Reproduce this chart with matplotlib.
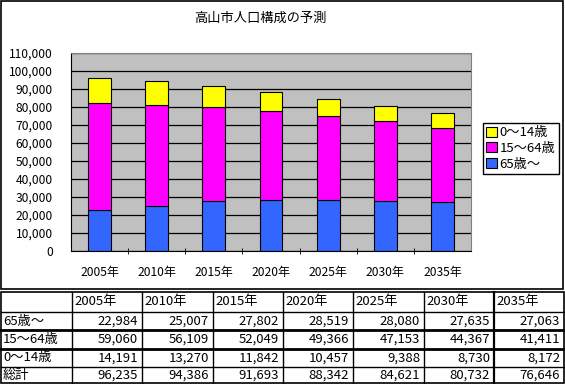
import matplotlib
matplotlib.use('Agg')
import matplotlib.pyplot as plt
from matplotlib.patches import Rectangle
from matplotlib.ticker import FuncFormatter, MultipleLocator

plt.rcParams['font.family'] = ['Noto Sans CJK JP', 'DejaVu Sans']

years = ['2005年', '2010年', '2015年', '2020年', '2025年', '2030年', '2035年']
age65 = [22984, 25007, 27802, 28519, 28080, 27635, 27063]
age15 = [59060, 56109, 52049, 49366, 47153, 44367, 41411]
age0 = [14191, 13270, 11842, 10457, 9388, 8730, 8172]
total = [96235, 94386, 91693, 88342, 84621, 80732, 76646]
row_labels = ['65歳〜', '15〜64歳', '0〜14歳', '総計']
title = '高山市人口構成の予測'

W, H = 565, 384
fig = plt.figure(figsize=(W / 100, H / 100), dpi=100)

# overlay in pixel coords for frames and the data table
ov = fig.add_axes([0, 0, 1, 1])
ov.set_xlim(0, W)
ov.set_ylim(H, 0)
ov.axis('off')
ov.add_patch(Rectangle((1, 1), 562, 288, fill=False, ec='black', lw=1.2))

ax = fig.add_axes([71 / W, 1 - 251 / H, 400 / W, 198 / H])
ax.set_facecolor('#C0C0C0')
x = list(range(len(years)))
b1 = ax.bar(x, age65, 0.4, color='#3366FF', edgecolor='black', lw=0.8)
b2 = ax.bar(x, age15, 0.4, bottom=age65, color='#FF00FF', edgecolor='black', lw=0.8)
bot = [a + b for a, b in zip(age65, age15)]
b3 = ax.bar(x, age0, 0.4, bottom=bot, color='#FFFF00', edgecolor='black', lw=0.8)
ax.set_xlim(-0.5, len(years) - 0.5)
ax.set_ylim(0, 110000)
ax.yaxis.set_major_locator(MultipleLocator(10000))
ax.yaxis.set_major_formatter(FuncFormatter(lambda v, p: f'{int(v):,}'))
ax.yaxis.grid(True, color='black', lw=0.9)
ax.set_axisbelow(True)
ax.set_xticks(x)
ax.set_xticklabels(years)
ax.set_xticks([i + 0.5 for i in x[:-1]], minor=True)
ax.tick_params(axis='x', which='major', length=0, pad=11, labelsize=8.7)
ax.tick_params(axis='x', which='minor', length=4, direction='inout', color='black')
ax.tick_params(axis='y', length=0, pad=13, labelsize=8.7)
for s in ['top', 'right']:
    ax.spines[s].set_color('#808080')
for s in ['left', 'bottom']:
    ax.spines[s].set_color('black')

leg = fig.legend([b3, b2, b1], ['0〜14歳', '15〜64歳', '65歳〜'], loc='upper left',
                 bbox_to_anchor=(483 / W, 1 - 123 / H), fontsize=9.5, frameon=True,
                 fancybox=False, edgecolor='black', framealpha=1, borderpad=0.25,
                 handlelength=0.8, handleheight=0.8, handletextpad=0.2,
                 labelspacing=0.2, borderaxespad=0)
leg.get_frame().set_linewidth(1)

fig.text(260 / W, 1 - 18 / H, title, ha='center', va='center', fontsize=9.5)

# data table
cols = [1, 72, 142, 213, 283, 353, 424, 494, 564]
rows = [292, 312, 330, 349, 367, 383]
ov.add_patch(Rectangle((cols[0], rows[0]), cols[-1] - cols[0], rows[-1] - rows[0],
                       fill=False, ec='black', lw=1.2))
for i, r in enumerate(rows[1:-1]):
    ov.plot([cols[0], cols[-1]], [r, r], color='black', lw=2 if i in (1, 2) else 1)
for j, c in enumerate(cols[1:-1]):
    ov.plot([c, c], [rows[0], rows[-1]], color='black', lw=1.6 if j == 6 else 1)
for j, y in enumerate(years):
    ov.text(cols[j + 1] + 2, (rows[0] + rows[1]) / 2, y, ha='left', va='center', fontsize=9.5)
table = [age65, age15, age0, total]
for i, lab in enumerate(row_labels):
    cy = (rows[i + 1] + rows[i + 2]) / 2
    ov.text(cols[0] + 2, cy, lab, ha='left', va='center', fontsize=9.5)
    for j, v in enumerate(table[i]):
        ov.text(cols[j + 2] - 4, cy, f'{v:,}', ha='right', va='center', fontsize=9.5)

fig.savefig('out.png', dpi=100)
